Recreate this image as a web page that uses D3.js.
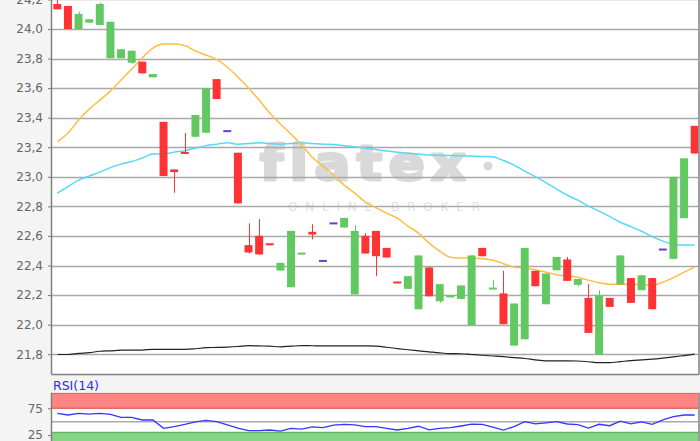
<!DOCTYPE html>
<html><head><meta charset="utf-8">
<script src="https://cdn.jsdelivr.net/npm/d3@7"></script>
<style>html,body{margin:0;padding:0;background:#f4f4f4;}svg{display:block;}</style>
</head><body>
<script>
// ---- data ----
const days = d3.range(1, 62);
const open = [
24.169,24.156,24.000,24.043,24.027,23.802,23.802,23.772,23.779,23.673,
23.372,23.050,23.168,23.271,23.298,23.661,23.309,23.163,22.538,22.601,
22.549,22.366,22.253,22.475,22.628,22.431,22.685,22.657,22.204,22.601,
22.634,22.519,22.290,22.242,22.104,22.387,22.158,22.184,22.174,21.996,
22.519,22.243,22.211,21.858,21.901,22.364,22.138,22.368,22.441,22.269,
22.181,21.798,22.181,22.271,22.315,22.233,22.315,22.508,22.445,22.720,
23.345];
const close = [
24.133,24.000,24.102,24.066,24.169,24.049,23.863,23.853,23.700,23.695,
23.005,23.032,23.155,23.418,23.599,23.526,23.309,22.820,22.488,22.475,
22.538,22.418,22.634,22.486,22.610,22.431,22.685,22.722,22.634,22.481,
22.463,22.454,22.280,22.328,22.468,22.192,22.274,22.199,22.265,22.468,
22.463,22.245,22.003,22.143,22.519,22.260,22.346,22.458,22.296,22.309,
21.944,22.199,22.120,22.468,22.147,22.334,22.104,22.508,23.000,23.125,
23.158];
const high = [
24.210,24.156,24.117,24.066,24.178,24.049,23.863,23.853,23.779,23.695,
23.372,23.050,23.296,23.418,23.599,23.661,23.309,23.163,22.685,22.714,
22.549,22.418,22.634,22.486,22.680,22.431,22.685,22.722,22.673,22.619,
22.634,22.519,22.290,22.328,22.468,22.387,22.274,22.199,22.265,22.468,
22.519,22.301,22.364,22.143,22.519,22.364,22.346,22.458,22.458,22.309,
22.274,22.233,22.181,22.468,22.315,22.334,22.315,22.508,23.000,23.125,
23.345];
const low = [
24.133,24.000,24.000,24.043,24.027,23.802,23.802,23.763,23.700,23.673,
23.005,22.892,23.155,23.271,23.298,23.526,23.309,22.820,22.481,22.475,
22.538,22.366,22.253,22.475,22.577,22.431,22.685,22.657,22.204,22.481,
22.328,22.454,22.280,22.242,22.104,22.192,22.147,22.184,22.174,21.996,
22.463,22.243,22.003,21.858,21.901,22.260,22.138,22.368,22.296,22.258,
21.944,21.798,22.120,22.271,22.147,22.233,22.104,22.508,22.445,22.720,
23.158];
const maShort = [
23.237,23.296,23.384,23.458,23.519,23.580,23.655,23.729,23.804,23.871,
23.898,23.898,23.888,23.851,23.824,23.794,23.743,23.675,23.601,23.519,
23.431,23.357,23.289,23.215,23.133,23.072,23.012,22.944,22.890,22.829,
22.791,22.754,22.720,22.666,22.619,22.551,22.497,22.456,22.450,22.450,
22.446,22.436,22.412,22.389,22.382,22.372,22.355,22.338,22.328,22.321,
22.301,22.284,22.274,22.274,22.274,22.270,22.267,22.287,22.318,22.355,
22.389];
const maMid = [
22.890,22.934,22.978,23.005,23.032,23.062,23.086,23.103,23.127,23.154,
23.154,23.167,23.177,23.194,23.211,23.221,23.230,23.221,23.225,23.230,
23.226,23.221,23.226,23.230,23.226,23.221,23.218,23.211,23.204,23.194,
23.185,23.175,23.167,23.159,23.154,23.147,23.145,23.144,23.142,23.140,
23.138,23.135,23.110,23.079,23.039,23.001,22.961,22.917,22.876,22.842,
22.802,22.768,22.731,22.693,22.663,22.632,22.595,22.565,22.544,22.538,
22.538];
const maLong = [
21.798,21.798,21.806,21.810,21.820,21.823,21.827,21.827,21.828,21.833,
21.833,21.833,21.833,21.837,21.844,21.846,21.848,21.852,21.858,21.856,
21.854,21.850,21.854,21.858,21.857,21.856,21.856,21.856,21.856,21.856,
21.854,21.847,21.838,21.830,21.823,21.816,21.809,21.804,21.803,21.798,
21.793,21.788,21.783,21.777,21.771,21.762,21.755,21.755,21.755,21.754,
21.749,21.743,21.743,21.750,21.757,21.762,21.767,21.774,21.782,21.791,
21.800];
const rsi = [
65.7,62.5,65.5,64.0,65.5,63.5,58.2,58.0,53.2,53.2,
37.7,41.0,45.0,49.5,52.5,50.0,44.0,38.0,33.2,33.2,
34.5,32.6,37.5,36.0,40.5,38.8,43.8,45.1,44.0,40.7,
40.7,37.5,34.5,37.7,41.5,34.8,37.7,38.8,42.0,45.6,
45.1,40.0,34.5,41.0,50.0,46.0,48.0,50.0,45.7,44.5,
38.0,45.2,42.5,51.0,46.0,49.5,45.1,53.2,59.3,62.5,
62.5];
const yTicks = [21.8,22.0,22.2,22.4,22.6,22.8,23.0,23.2,23.4,23.6,23.8,24.0,24.2];
const yTickLabels = ["21,8","22,0","22,2","22,4","22,6","22,8","23,0","23,2","23,4","23,6","23,8","24,0","24,2"];
const rsiTicks = [25, 75];
const rsiTickLabels = ["25","75"];
const rsiUpper = 75, rsiLower = 30, rsiMid = 50;

// ---- layout ----
const W = 700, H = 441;
const L = 52, R = 698.5, T = 0, B = 374;
const rT = 392.7, rB = 460;

const svg = d3.select("body").append("svg").attr("width", W).attr("height", H);
svg.append("rect").attr("width", W).attr("height", H).attr("fill", "#f4f4f4");

const x = d3.scaleBand().domain(days).range([52, 700]).paddingInner(0.25).paddingOuter(0.125);
const cx = d => x(d) + x.bandwidth() / 2;
const y = d3.scaleLinear().domain([21.8, 24.0]).range([354.2, 29]);
const y2 = d3.scaleLinear().domain([0, 100]).range([448.5, 394.9]);

const defs = svg.append("defs");
defs.append("clipPath").attr("id", "cm").append("rect").attr("x", L).attr("y", T).attr("width", R - L).attr("height", B - T);
defs.append("clipPath").attr("id", "cr").append("rect").attr("x", L).attr("y", rT).attr("width", R - L).attr("height", rB - rT);

// main plot background
svg.append("rect").attr("x", L).attr("y", T).attr("width", R - L).attr("height", B - T).attr("fill", "#fff");

// watermark
const wm = svg.append("g").attr("clip-path", "url(#cm)");
wm.append("text").attr("x", 260).attr("y", 180).attr("textLength", 212).attr("lengthAdjust", "spacingAndGlyphs")
  .attr("font-family", "DejaVu Sans, sans-serif").attr("font-weight", "bold").attr("font-size", 48)
  .attr("fill", "#d9d9d9").attr("stroke", "#d9d9d9").attr("stroke-width", 3).attr("stroke-linejoin", "round")
  .attr("letter-spacing", 6).text("flatex");
wm.append("circle").attr("cx", 488).attr("cy", 166).attr("r", 4.5).attr("fill", "#d9d9d9");
wm.append("text").attr("x", 288).attr("y", 211).attr("textLength", 192).attr("lengthAdjust", "spacing")
  .attr("font-family", "DejaVu Sans, sans-serif").attr("font-size", 12)
  .attr("fill", "#e0e0e0").text("ONLINE BROKER");

// grid
const grid = svg.append("g").attr("clip-path", "url(#cm)");
grid.selectAll("line").data(yTicks).join("line")
  .attr("x1", L).attr("x2", R).attr("y1", d => Math.round(y(d)) + 0.5).attr("y2", d => Math.round(y(d)) + 0.5)
  .attr("stroke", "#a9a9a9").attr("stroke-width", 1.4);

// y axis
const yAxis = d3.axisLeft(y).tickValues(yTicks).tickSize(4).tickPadding(5)
  .tickFormat((d, i) => yTickLabels[i]);
const ya = svg.append("g").attr("transform", `translate(${L},0)`).call(yAxis);
ya.select(".domain").remove();
ya.selectAll(".tick line").attr("stroke", "#777");
ya.selectAll(".tick text").attr("font-family", "DejaVu Sans, sans-serif").attr("font-size", 12).attr("fill", "#666");

// MA lines
const plot = svg.append("g").attr("clip-path", "url(#cm)");
const lineGen = arr => d3.line().x((d, i) => cx(days[i])).y(d => y(d)).curve(d3.curveMonotoneX)(arr);
plot.append("path").attr("d", lineGen(maLong)).attr("fill", "none").attr("stroke", "#222").attr("stroke-width", 1.2);
plot.append("path").attr("d", lineGen(maMid)).attr("fill", "none").attr("stroke", "#55d8f8").attr("stroke-width", 1.5);
plot.append("path").attr("d", lineGen(maShort)).attr("fill", "none").attr("stroke", "#fbbf45").attr("stroke-width", 1.5);

// candles
const candles = days.map((d, i) => ({d, o: open[i], c: close[i], h: high[i], l: low[i]}));
const colorOf = k => (k.o === k.c && k.h === k.l && k.o === k.h) ? "#6a3fd0" : (k.c >= k.o ? "#62c962" : "#ff3333");
const cg = plot.append("g");
cg.selectAll("line.wick").data(candles.filter(k => !(k.o === k.c && k.h === k.l))).join("line")
  .attr("class", "wick")
  .attr("x1", k => Math.round(cx(k.d)) + 0.5).attr("x2", k => Math.round(cx(k.d)) + 0.5)
  .attr("y1", k => y(k.h)).attr("y2", k => y(k.l))
  .attr("stroke", colorOf).attr("stroke-width", 1);
cg.selectAll("rect.body").data(candles).join("rect")
  .attr("class", "body")
  .attr("x", k => x(k.d)).attr("width", x.bandwidth())
  .attr("y", k => {
    const t = y(Math.max(k.o, k.c)), b = y(Math.min(k.o, k.c));
    return (b - t < 2) ? (t + b) / 2 - 1 : t;
  })
  .attr("height", k => Math.max(2, y(Math.min(k.o, k.c)) - y(Math.max(k.o, k.c))))
  .attr("fill", colorOf);

// main borders
svg.append("line").attr("x1", L - 0.5).attr("x2", L - 0.5).attr("y1", 0).attr("y2", B + 0.5).attr("stroke", "#808080").attr("stroke-width", 1.5);
svg.append("line").attr("x1", L - 0.5).attr("x2", R + 0.5).attr("y1", B + 0.5).attr("y2", B + 0.5).attr("stroke", "#808080").attr("stroke-width", 1.5);
svg.append("line").attr("x1", R + 0.5).attr("x2", R + 0.5).attr("y1", 0).attr("y2", B + 0.5).attr("stroke", "#808080").attr("stroke-width", 1.5);

// ---- RSI panel ----
svg.append("text").attr("x", 53).attr("y", 389.5).attr("font-family", "DejaVu Sans, sans-serif").attr("font-size", 12.5)
  .attr("fill", "#2a2aff").text("RSI(14)");
svg.append("rect").attr("x", L).attr("y", rT).attr("width", R - L).attr("height", rB - rT).attr("fill", "#fff");
const rg = svg.append("g").attr("clip-path", "url(#cr)");
rg.append("rect").attr("x", L).attr("y", rT).attr("width", R - L).attr("height", y2(rsiUpper) - rT).attr("fill", "#ff8585");
rg.append("line").attr("x1", L).attr("x2", R).attr("y1", y2(rsiUpper)).attr("y2", y2(rsiUpper)).attr("stroke", "#e06a6a").attr("stroke-width", 1.5);
rg.append("line").attr("x1", L).attr("x2", R).attr("y1", rT + 0.5).attr("y2", rT + 0.5).attr("stroke", "#d06060").attr("stroke-width", 1);
rg.append("rect").attr("x", L).attr("y", y2(rsiLower)).attr("width", R - L).attr("height", rB - y2(rsiLower)).attr("fill", "#86d486");
rg.append("line").attr("x1", L).attr("x2", R).attr("y1", y2(rsiLower)).attr("y2", y2(rsiLower)).attr("stroke", "#5cb85c").attr("stroke-width", 1.5);
rg.append("line").attr("x1", L).attr("x2", R).attr("y1", y2(rsiMid)).attr("y2", y2(rsiMid)).attr("stroke", "#aaa").attr("stroke-width", 1.4);
rg.append("path").attr("d", d3.line().x((d, i) => cx(days[i])).y(d => y2(d))(rsi))
  .attr("fill", "none").attr("stroke", "#3636ff").attr("stroke-width", 1.3);

const rAxis = d3.axisLeft(y2).tickValues(rsiTicks).tickSize(4).tickPadding(5).tickFormat((d, i) => rsiTickLabels[i]);
const ra = svg.append("g").attr("transform", `translate(${L},0)`).call(rAxis);
ra.select(".domain").remove();
ra.selectAll(".tick line").attr("stroke", "#777");
ra.selectAll(".tick text").attr("font-family", "DejaVu Sans, sans-serif").attr("font-size", 12).attr("fill", "#666");

svg.append("line").attr("x1", L - 0.5).attr("x2", L - 0.5).attr("y1", rT).attr("y2", H).attr("stroke", "#808080").attr("stroke-width", 1.5);
svg.append("line").attr("x1", R + 0.5).attr("x2", R + 0.5).attr("y1", rT).attr("y2", H).attr("stroke", "#808080").attr("stroke-width", 1.5);
</script>
</body></html>
